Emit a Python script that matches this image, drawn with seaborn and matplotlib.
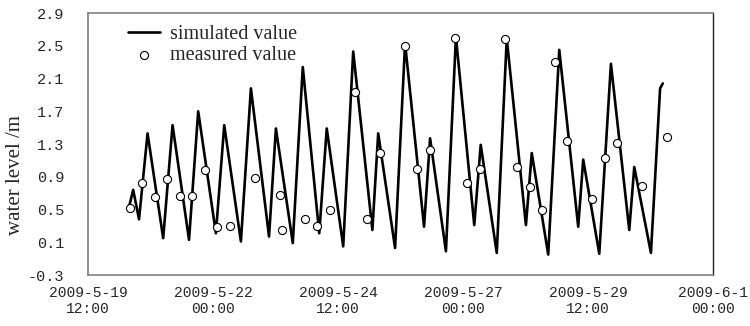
import numpy as np
import pandas as pd
import matplotlib
matplotlib.use("Agg")
import matplotlib.pyplot as plt
import matplotlib.dates as mdates
import seaborn as sns

base_time = "2009-05-19 12:00"

# simulated water level (hours after base_time, metres)
sim_hours = [19.7, 21.7, 24.5, 28.6, 36.1, 40.6, 48.5, 52.9, 61.4, 65.4,
             73.4, 78.2, 86.9, 90.2, 98.3, 103.1, 111.0, 114.6, 122.5, 127.3,
             136.5, 139.3, 147.4, 152.2, 161.3, 164.2, 171.8, 176.6, 185.4, 188.5,
             196.2, 201.0, 210.2, 213.0, 220.9, 226.2, 235.3, 237.7, 245.4, 251.0,
             259.8, 262.2, 270.2, 274.6, 275.9]
sim_level = [0.53, 0.74, 0.38, 1.43, 0.15, 1.53, 0.13, 1.70, 0.21, 1.53,
             0.11, 1.98, 0.17, 1.49, 0.09, 2.24, 0.21, 1.49, 0.05, 2.43,
             0.25, 1.43, 0.03, 2.53, 0.29, 1.37, -0.01, 2.61, 0.31, 1.29,
             -0.03, 2.59, 0.31, 1.19, -0.05, 2.45, 0.29, 1.11, -0.04, 2.28,
             0.25, 1.02, -0.03, 1.98, 2.04]

# measured water level
meas_hours = [20, 26, 32, 38, 44, 50, 56, 62, 68, 80, 92, 93, 104, 110, 116,
              128, 134, 140, 152, 158, 164, 176, 182, 188, 200, 206, 212, 218,
              224, 230, 242, 248, 254, 266, 278]
meas_level = [0.52, 0.83, 0.65, 0.87, 0.66, 0.66, 0.98, 0.29, 0.30, 0.88, 0.68, 0.25,
              0.39, 0.30, 0.49, 1.93, 0.38, 1.19, 2.50, 0.99, 1.23, 2.59, 0.83,
              0.99, 2.58, 1.02, 0.77, 0.49, 2.30, 1.34, 0.63, 1.13, 1.31, 0.79, 1.39]

y_ticks = [-0.3, 0.1, 0.5, 0.9, 1.3, 1.7, 2.1, 2.5, 2.9]
x_tick_times = ["2009-05-19 12:00", "2009-05-22 00:00", "2009-05-24 12:00",
                "2009-05-27 00:00", "2009-05-29 12:00", "2009-06-01 00:00"]
x_tick_labels = ["2009-5-19\n12:00", "2009-5-22\n00:00", "2009-5-24\n12:00",
                 "2009-5-27\n00:00", "2009-5-29\n12:00", "2009-6-1\n00:00"]

t0 = pd.Timestamp(base_time)
sim_df = pd.DataFrame({"time": t0 + pd.to_timedelta(sim_hours, unit="h"),
                       "level": sim_level})
meas_df = pd.DataFrame({"time": t0 + pd.to_timedelta(meas_hours, unit="h"),
                        "level": meas_level})

sns.set_style("white")
fig = plt.figure(figsize=(7.5, 3.26), dpi=100)
ax = fig.add_axes([0.1173, 0.1564, 0.8334, 0.8036])

sns.lineplot(data=sim_df, x="time", y="level", ax=ax, color="black",
             linewidth=1.9, label="simulated value", sort=False,
             solid_joinstyle="round")
sns.scatterplot(data=meas_df, x="time", y="level", ax=ax, marker="o",
                s=34, facecolor="white", edgecolor="black", linewidth=0.8,
                label="measured value", zorder=5)

xt = [mdates.date2num(pd.Timestamp(t)) for t in x_tick_times]
ax.set_xlim(xt[0], xt[-1])
ax.set_ylim(-0.3, 2.9)
ax.set_xticks(xt)
ax.set_xticklabels(x_tick_labels, family="Liberation Mono", fontsize=10.5,
                   linespacing=1.2)
ax.set_yticks(y_ticks)
ax.set_yticklabels([f"{v:.1f}" for v in y_ticks], family="Liberation Mono",
                   fontsize=11)
ax.tick_params(axis="both", direction="in", length=4, color="#555555",
               width=0.8)
ax.tick_params(axis="y", pad=17)
ax.tick_params(axis="x", pad=8)

for side in ["left", "top", "bottom"]:
    ax.spines[side].set_color("#808080")
    ax.spines[side].set_linewidth(1.2)
ax.spines["right"].set_color("#222222")
ax.spines["right"].set_linewidth(1.0)

ax.set_xlabel("")
ax.set_ylabel("water level /m", family="Liberation Serif", fontsize=15)
ax.yaxis.set_label_coords(-0.1, 0.38)

leg = ax.legend(loc="upper left", bbox_to_anchor=(0.051, 0.985), frameon=False,
                prop={"family": "Liberation Serif", "size": 14.5},
                handlelength=1.6, handletextpad=0.5, labelspacing=0.1,
                borderaxespad=0.0)

fig.savefig("out.png", dpi=100)
